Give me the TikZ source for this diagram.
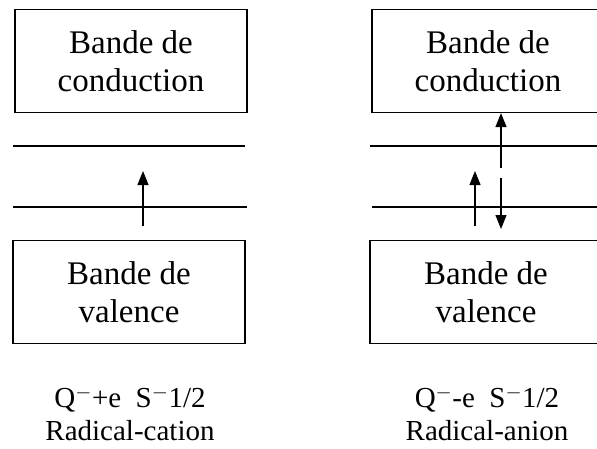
\documentclass[tikz,border=0pt]{standalone}
\usepackage{fontspec}
\setmainfont{Liberation Serif}
\usetikzlibrary{arrows.meta}

\begin{document}
\begin{tikzpicture}[x=1pt,y=-1pt]
\tikzset{band/.style={draw,line width=1.2pt,minimum width=232pt,minimum height=103pt,
                      align=center,font=\fontsize{33}{38}\selectfont},
         level/.style={line width=1.2pt},
         spin/.style={line width=1.2pt,-{Triangle[length=14pt,width=11pt]}},
         caption/.style={align=center,font=\fontsize{29}{33}\selectfont}}
\useasboundingbox (0,0) rectangle (597,448);
\clip (0,0) rectangle (597,448);
% radical-cation
\node[band] (cbL) at (131,61) {Bande de\\conduction};
\node[band] (vbL) at (129,292) {Bande de\\valence};
\coordinate (l1a) at (13,146); \coordinate (l1b) at (245,146);
\coordinate (l2a) at (13,207); \coordinate (l2b) at (247,207);
\draw[level] (l1a) -- (l1b);
\draw[level] (l2a) -- (l2b);
\coordinate (eL) at (143,226); \coordinate (eLt) at (143,171);
\draw[spin] (eL) -- (eLt);
\node[caption] (capL) at (130,414) {Q$^{-}$+e\enspace S$^{-}$1/2\\Radical-cation};
% radical-anion
\node[band] (cbR) at (488,61) {Bande de\\conduction};
\node[band] (vbR) at (486,292) {Bande de\\valence};
\coordinate (r1a) at (370,146); \coordinate (r1b) at (605,146);
\coordinate (r2a) at (372,207); \coordinate (r2b) at (605,207);
\draw[level] (r1a) -- (r1b);
\draw[level] (r2a) -- (r2b);
\coordinate (eR) at (475,226); \coordinate (eRt) at (475,171);
\draw[spin] (eR) -- (eRt);
\coordinate (hU) at (501,168); \coordinate (hD) at (501,178);
\draw[spin] (hU) -- (cbR.south -| hU);
\draw[spin] (hD) -- (501,229);
\node[caption] (capR) at (487,414) {Q$^{-}$-e\enspace S$^{-}$1/2\\Radical-anion};
\end{tikzpicture}
\end{document}
